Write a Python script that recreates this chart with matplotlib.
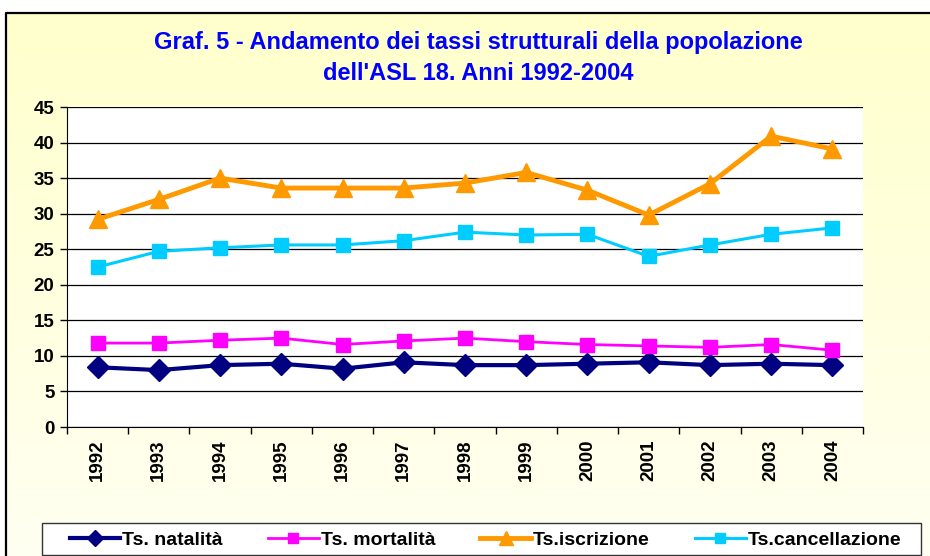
import matplotlib
matplotlib.use("Agg")
import matplotlib.pyplot as plt
import numpy as np
from matplotlib.colors import LinearSegmentedColormap
from matplotlib.patches import Rectangle

years = ["1992", "1993", "1994", "1995", "1996", "1997", "1998",
         "1999", "2000", "2001", "2002", "2003", "2004"]
natalita = [8.4, 8.0, 8.7, 8.9, 8.2, 9.1, 8.7, 8.7, 8.9, 9.1, 8.7, 8.9, 8.7]
mortalita = [11.8, 11.8, 12.2, 12.5, 11.6, 12.1, 12.5, 12.0, 11.6, 11.4, 11.2, 11.6, 10.8]
iscrizione = [29.2, 32.0, 35.0, 33.6, 33.6, 33.6, 34.3, 35.8, 33.3, 29.8, 34.2, 40.9, 39.1]
cancellazione = [22.5, 24.7, 25.2, 25.6, 25.6, 26.2, 27.4, 27.0, 27.1, 24.0, 25.6, 27.1, 28.0]
series_labels = ["Ts. natalità", "Ts. mortalità", "Ts.iscrizione", "Ts.cancellazione"]
title_line1 = "Graf. 5 - Andamento dei tassi strutturali della popolazione"
title_line2 = "dell'ASL 18. Anni 1992-2004"

plt.rcParams['font.family'] = ['Liberation Sans', 'DejaVu Sans']

W, H = 930, 556
fig = plt.figure(figsize=(W / 100, H / 100), dpi=100)
fig.patch.set_facecolor("white")

# gradient background for chart area
bg = fig.add_axes([0, 0, 1, 1], zorder=-10)
grad = np.linspace(0, 1, 256).reshape(-1, 1)
cmap = LinearSegmentedColormap.from_list("bgc", ["#FFFFF2", "#FFFFCC"])
x0 = 6 / W
y1 = 1 - 13 / H
bg.imshow(grad, aspect="auto", cmap=cmap, origin="lower",
          extent=[x0, 1.01, -0.01, y1])
bg.set_xlim(0, 1)
bg.set_ylim(0, 1)
bg.plot([x0, x0, 1.01], [-0.01, y1, y1], color="black", lw=1.6)
# legend frame
bg.add_patch(Rectangle((42 / W, 1 - 555 / H), 879 / W, 32 / H,
                       facecolor="white", edgecolor="#333333", lw=1.0))
bg.axis("off")

left, right, top, bottom = 67, 863, 107, 427
ax = fig.add_axes([left / W, 1 - bottom / H, (right - left) / W, (bottom - top) / H])
ax.set_facecolor("white")

x = np.arange(len(years))
l1, = ax.plot(x, natalita, color="#000080", lw=3.0, marker="D", ms=11, zorder=5)
l2, = ax.plot(x, mortalita, color="#FF00FF", lw=2.0, marker="s", ms=10, zorder=5)
l3, = ax.plot(x, iscrizione, color="#FF9900", lw=3.5, marker="^", ms=13, zorder=5)
l4, = ax.plot(x, cancellazione, color="#00CCFF", lw=2.2, marker="s", ms=10, zorder=5)

ax.set_xlim(-0.5, len(years) - 0.5)
ax.set_ylim(0, 45)
ax.set_yticks(np.arange(0, 46, 5))
ax.yaxis.grid(True, color="black", lw=0.9)
ax.set_axisbelow(True)
ax.set_xticks(x)
ax.set_xticklabels(years, rotation=90, fontweight="bold", fontsize=13.5)
ax.set_xticks(np.arange(-0.5, len(years)), minor=True)
ax.tick_params(axis="x", which="major", length=0, pad=9)
ax.tick_params(axis="x", which="minor", length=5, width=1, direction="out")
ax.tick_params(axis="y", length=5, width=1, direction="out", labelsize=13.5, pad=4)
for t in ax.get_yticklabels():
    t.set_fontweight("bold")
for s in ["top", "right"]:
    ax.spines[s].set_visible(False)
ax.spines["left"].set_color("black")
ax.spines["bottom"].set_color("black")

fig.text(478 / W, 1 - 42 / H, title_line1, ha="center", va="center",
         color="#0000FF", fontsize=17, fontweight="bold")
fig.text(478 / W, 1 - 73 / H, title_line2, ha="center", va="center",
         color="#0000FF", fontsize=17, fontweight="bold")

leg = fig.legend([l1, l2, l3, l4], series_labels, loc="lower left",
                 bbox_to_anchor=(64 / W, 1 - 555 / H, 843 / W, 32 / H),
                 mode="expand", ncol=4, frameon=False,
                 prop={"weight": "bold", "size": 14},
                 handlelength=2.6, columnspacing=2.0, handletextpad=0.1,
                 borderpad=0.3, borderaxespad=0, markerscale=0.75)

fig.savefig("out.png", dpi=100)
